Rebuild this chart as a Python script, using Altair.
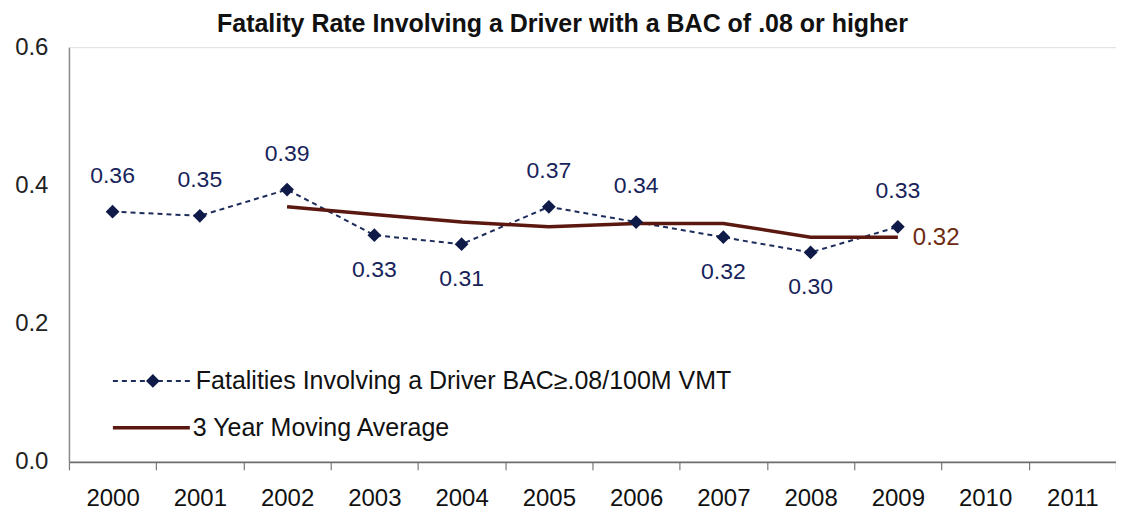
import altair as alt
import pandas as pd

# ---- data ----
years = [str(y) for y in range(2000, 2012)]
rate_years = ["2000", "2001", "2002", "2003", "2004", "2005", "2006", "2007", "2008", "2009"]
rate_values = [0.362, 0.356, 0.394, 0.328, 0.315, 0.369, 0.347, 0.325, 0.303, 0.340]
rate_labels = ["0.36", "0.35", "0.39", "0.33", "0.31", "0.37", "0.34", "0.32", "0.30", "0.33"]
label_above = [True, True, True, False, False, True, True, False, False, True]

ma_years = ["2002", "2003", "2004", "2005", "2006", "2007", "2008", "2009"]
ma_values = [0.369, 0.358, 0.347, 0.340, 0.345, 0.345, 0.325, 0.325]
ma_last_label = "0.32"

title_text = "Fatality Rate Involving a Driver with a BAC of .08 or higher"
legend_rate = "Fatalities Involving a Driver BAC\u2265.08/100M VMT"
legend_ma = "3 Year Moving Average"
y_ticks = [0.0, 0.2, 0.4, 0.6]

NAVY = "#0f1a48"
NAVY_TXT = "#18235a"
MAROON = "#5a1810"
BROWN_TXT = "#6e2a10"
SANS = "Liberation Sans, Arial, sans-serif"

rate_df = pd.DataFrame({"year": rate_years, "value": rate_values,
                        "label": rate_labels, "above": label_above})
ma_df = pd.DataFrame({"year": ma_years, "value": ma_values})
ma_last_df = pd.DataFrame({"year": [ma_years[-1]], "value": [ma_values[-1]],
                           "label": [ma_last_label]})

x_enc = alt.X("year:O",
              scale=alt.Scale(type="band", domain=years, paddingInner=0, paddingOuter=0),
              axis=alt.Axis(title=None, labelAngle=0, tickBand="extent", tickSize=8,
                            labelPadding=17, labelFont=SANS, labelFontSize=24,
                            labelColor="#111111", domainColor="#6e6e6e", domainWidth=1.8,
                            tickColor="#7a7a7a", tickWidth=1.2, grid=False))
y_enc = alt.Y("value:Q",
              scale=alt.Scale(domain=[0, 0.6], nice=False, zero=True),
              axis=alt.Axis(title=None, values=y_ticks, format=".1f", ticks=False,
                            labelPadding=21, labelFont=SANS, labelFontSize=24,
                            labelColor="#222222", domainColor="#8a8a8a", domainWidth=1.5,
                            grid=False))

base_rate = alt.Chart(rate_df)

rate_line = base_rate.mark_line(color="#1e2c5c", strokeWidth=2, strokeDash=[5, 4]).encode(x=x_enc, y=y_enc)
rate_pts = base_rate.mark_point(shape="diamond", filled=True, size=190, color=NAVY, opacity=1).encode(
    x="year:O", y="value:Q")
lab_above = base_rate.transform_filter("datum.above").mark_text(
    font=SANS, fontSize=23, color=NAVY_TXT, dy=-36, baseline="middle").encode(
    x="year:O", y="value:Q", text="label:N")
lab_below = base_rate.transform_filter("!datum.above").mark_text(
    font=SANS, fontSize=23, color=NAVY_TXT, dy=35, baseline="middle").encode(
    x="year:O", y="value:Q", text="label:N")

ma_line = alt.Chart(ma_df).mark_line(color=MAROON, strokeWidth=3.5).encode(x="year:O", y="value:Q")
ma_lab = alt.Chart(ma_last_df).mark_text(font=SANS, fontSize=24, color=BROWN_TXT, align="left",
                                         baseline="middle", dx=15, dy=1).encode(
    x="year:O", y="value:Q", text="label:N")

one = alt.Data(values=[{}])
title_mark = alt.Chart(one).mark_text(font=SANS, fontSize=25, fontWeight="bold", color="#111111",
                                      align="center", baseline="alphabetic").encode(
    x=alt.value(494), y=alt.value(-15), text=alt.value(title_text))
leg_box = alt.Chart(one).mark_rect(color="white").encode(
    x=alt.value(11), x2=alt.value(679), y=alt.value(304), y2=alt.value(411))
leg_dash = alt.Chart(one).mark_rule(color="#1e2c5c", strokeWidth=2, strokeDash=[5, 4]).encode(
    x=alt.value(44), x2=alt.value(121), y=alt.value(334))
leg_diam = alt.Chart(one).mark_point(shape="diamond", filled=True, size=190, color=NAVY, opacity=1).encode(
    x=alt.value(84), y=alt.value(334))
leg_txt1 = alt.Chart(one).mark_text(font=SANS, fontSize=25, color="#111111", align="left",
                                    baseline="middle").encode(
    x=alt.value(127), y=alt.value(334), text=alt.value(legend_rate))
leg_solid = alt.Chart(one).mark_rule(color=MAROON, strokeWidth=3.5).encode(
    x=alt.value(44), x2=alt.value(121), y=alt.value(381))
leg_txt2 = alt.Chart(one).mark_text(font=SANS, fontSize=25, color="#111111", align="left",
                                    baseline="middle").encode(
    x=alt.value(124), y=alt.value(381), text=alt.value(legend_ma))

chart = alt.layer(
    rate_line, ma_line, rate_pts, lab_above, lab_below, ma_lab,
    leg_box, leg_dash, leg_diam, leg_txt1, leg_solid, leg_txt2, title_mark
).properties(
    width=1048, height=415,
    autosize=alt.AutoSizeParams(type="none"),
    padding={"left": 61, "top": 39, "right": 0, "bottom": 50},
).configure_view(fill="#eff3f7", stroke=None).configure(background="white")

chart.save("out.html", embed_options={"renderer": "svg", "actions": False})
